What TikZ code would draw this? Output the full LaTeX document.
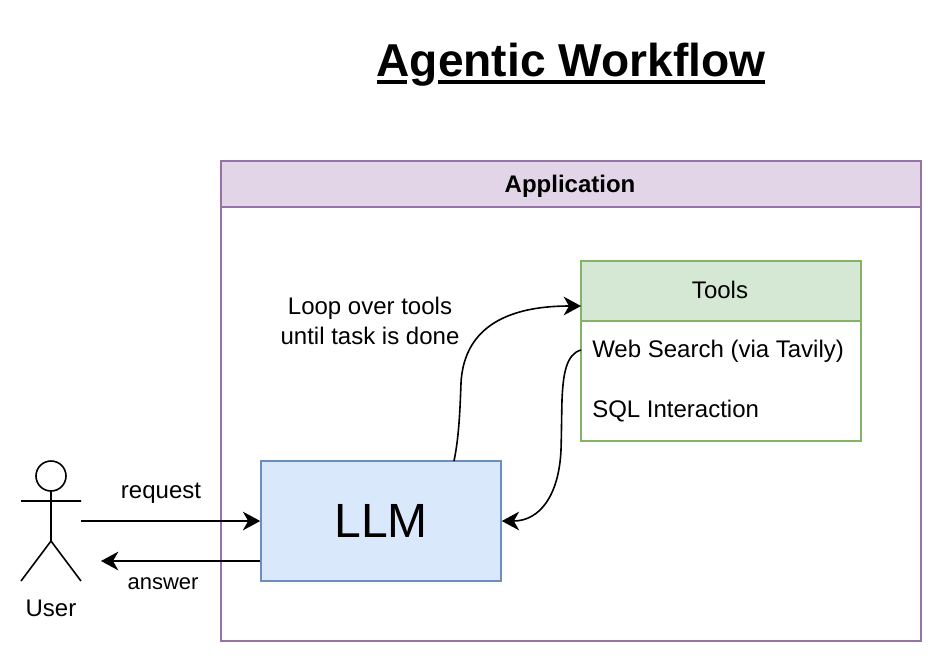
\documentclass[tikz,border=0pt]{standalone}
\usepackage{fontspec}
\setmainfont{Liberation Sans}
\usetikzlibrary{positioning,arrows.meta}
\definecolor{purpleline}{HTML}{9673A6}
\definecolor{purplefill}{HTML}{E1D5E7}
\definecolor{greenline}{HTML}{82B366}
\definecolor{greenfill}{HTML}{D5E8D4}
\definecolor{blueline}{HTML}{6C8EBF}
\definecolor{bluefill}{HTML}{DAE8FC}
\newcommand{\titlebar}[2]{\rlap{\hspace*{#1}\rule[-5.5pt]{#2}{3pt}}}
\tikzstyle{block} = [draw=blueline, fill=bluefill, rectangle, line width=1.2pt,
    minimum height=90pt, minimum width=180pt, font=\fontsize{36}{40}\selectfont]
\tikzstyle{header} = [draw=purpleline, fill=purplefill, rectangle, line width=1.2pt,
    minimum height=34.5pt, minimum width=525pt]
\tikzstyle{frame} = [draw=purpleline, rectangle, line width=1.2pt,
    minimum height=325.5pt, minimum width=525pt]
\tikzstyle{toolhead} = [draw=greenline, fill=greenfill, rectangle, line width=1.2pt,
    minimum height=45pt, minimum width=210pt]
\tikzstyle{toolbody} = [draw=greenline, rectangle, line width=1.2pt,
    minimum height=90pt, minimum width=210pt]
\tikzstyle{textnode} = [font=\fontsize{18}{22}\selectfont, align=center, inner sep=0pt, anchor=base]
\tikzstyle{arrow} = [-{Stealth[length=13pt,width=14pt,inset=4pt]}, line width=1.2pt, black]
\tikzstyle{actor} = [line width=1.2pt, black]
\begin{document}
\begin{tikzpicture}[x=0.75pt,y=-0.75pt]
    \useasboundingbox (0,0) rectangle (942,662);
    \node [font=\fontsize{34.6}{38}\selectfont\bfseries, inner sep=0pt, anchor=base] (title) at (571,76.7)
        {\titlebar{0pt}{23pt}\titlebar{46pt}{245pt}Agentic Workflow};
    \node [frame] (app) at (571,424) {};
    \node [header] (apphead) at (571,184) {};
    \node [textnode, font=\fontsize{18}{22}\selectfont\bfseries] (apptext) at (570,192.5) {Application};
    \node [block] (llm) at (381,521) {LLM};
    \node [toolhead] (tools) at (721,291) {};
    \node [textnode] (toolstext) at (720,298) {Tools};
    \node [toolbody] (toolbox) at (721,381) {};
    \node [textnode, anchor=base west] (search) at (592,357.5) {Web Search (via Tavily)};
    \node [textnode, anchor=base west] (sql) at (592,417.5) {SQL Interaction};
    \node [textnode, anchor=center] (loop) at (370,321) {Loop over tools\\until task is done};
    % stick figure
    \coordinate (head) at (51,476);
    \draw [actor] (head) circle (15);
    \coordinate (neck) at (51,491);
    \coordinate (hip) at (51,541);
    \coordinate (lfoot) at (21,581);
    \coordinate (rfoot) at (81,581);
    \coordinate (lhand) at (21,501);
    \coordinate (rhand) at (81,501);
    \draw [actor] (neck) -- (hip) (lhand) -- (rhand) (lfoot) -- (hip) -- (rfoot);
    \node [textnode] (user) at (51,616.5) {User};
    % connectors
    \coordinate (userout) at (81,521);
    \coordinate (userin) at (101,561);
    \coordinate (toolsin) at (581,306);
    \coordinate (toolsout) at (581,350);
    \coordinate (llmtop) at (454,461);
    \draw [arrow] (userout) -- (llm.west);
    \node [textnode] (request) at (161,498) {request};
    \draw [arrow] (llm.west |- userin) -- (userin);
    \node [textnode, font=\fontsize{16.5}{20}\selectfont] (answer) at (163,589.5) {answer};
    \draw [arrow] (llmtop) .. controls (459,437) and (460,410) .. (461,383)
        .. controls (463,345) and (485,306) .. (toolsin);
    \draw [arrow] (toolsout) .. controls (566,354) and (563,375) .. (562,400)
        .. controls (561.5,420) and (561.5,435) .. (561,450)
        .. controls (559,495) and (540,521) .. (llm.east);
\end{tikzpicture}
\end{document}
